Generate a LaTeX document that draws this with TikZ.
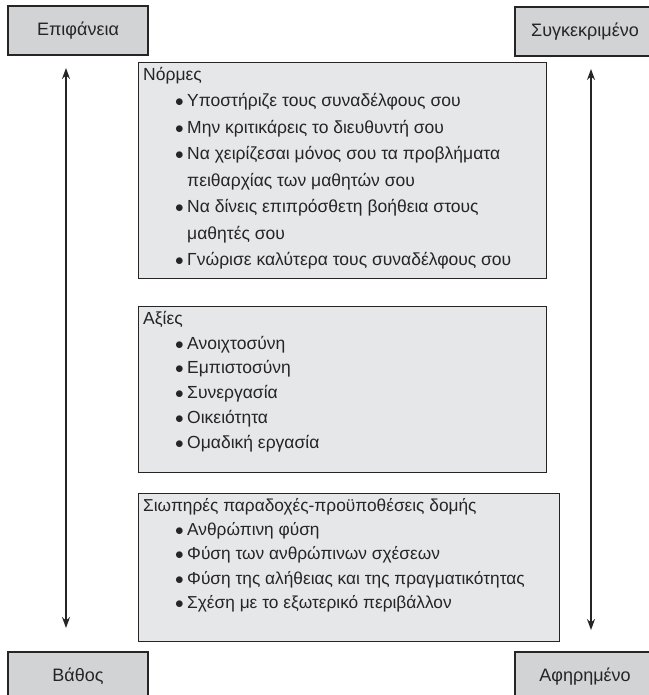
\documentclass[tikz,border=0pt]{standalone}
\usepackage{fontspec}
\setmainfont{Liberation Sans}
\usetikzlibrary{arrows.meta}
\definecolor{edgegray}{HTML}{262425}
\definecolor{outergray}{HTML}{D2D3D5}
\definecolor{innergray}{HTML}{E6E7E8}
\newcommand{\bitem}[1]{\hspace*{32pt}\makebox[12pt][l]{$\bullet$}#1}
\newcommand{\bcont}[1]{\hspace*{44pt}#1}
\begin{document}
\begin{tikzpicture}[x=1pt, y=-1pt,
		corner/.style={draw=edgegray, line width=1.4pt, fill=outergray, minimum width=140pt, minimum height=49pt, inner sep=0pt, font=\fontsize{18}{20}\selectfont, text=edgegray},
		layer/.style={draw=edgegray, line width=1.4pt, fill=innergray, anchor=north west, inner sep=0pt},
		list/.style={anchor=north west, align=left, inner sep=0pt, text=edgegray}]
			\useasboundingbox (0,0) rectangle (648,695);
			% corner labels
			\node[corner] (surface) at (78,30.5) {Επιφάνεια};
			\node[corner] (concrete) at (585,31.5) {Συγκεκριμένο};
			\node[corner] (depth) at (78,676.5) {Βάθος};
			\node[corner] (abstract) at (585,676.5) {Αφηρημένο};
			% the three layers
			\node[layer, minimum width=408pt, minimum height=216pt] (norms) at (138,62) {};
			\node[layer, minimum width=408pt, minimum height=166pt] (values) at (138,306) {};
			\node[layer, minimum width=421pt, minimum height=148pt] (assumptions) at (138,493) {};
			\node[list, font=\fontsize{17.5}{26.5}\selectfont] (normstext) at ([xshift=5pt, yshift=-5pt]norms.north west) {Νόρμες\\
				\bitem{Υποστήριζε τους συναδέλφους σου}\\
				\bitem{Μην κριτικάρεις το διευθυντή σου}\\
				\bitem{Να χειρίζεσαι μόνος σου τα προβλήματα}\\
				\bcont{πειθαρχίας των μαθητών σου}\\
				\bitem{Να δίνεις επιπρόσθετη βοήθεια στους}\\
				\bcont{μαθητές σου}\\
				\bitem{Γνώρισε καλύτερα τους συναδέλφους σου}};
			\node[list, font=\fontsize{17.5}{24.8}\selectfont] (valuestext) at ([xshift=5pt, yshift=-5pt]values.north west) {Αξίες\\
				\bitem{Ανοιχτοσύνη}\\
				\bitem{Εμπιστοσύνη}\\
				\bitem{Συνεργασία}\\
				\bitem{Οικειότητα}\\
				\bitem{Ομαδική εργασία}};
			\node[list, font=\fontsize{17.3}{24.3}\selectfont] (assumptionstext) at ([xshift=5pt, yshift=-5pt]assumptions.north west) {Σιωπηρές παραδοχές-προϋποθέσεις δομής\\
				\bitem{Ανθρώπινη φύση}\\
				\bitem{Φύση των ανθρώπινων σχέσεων}\\
				\bitem{Φύση της αλήθειας και της πραγματικότητας}\\
				\bitem{Σχέση με το εξωτερικό περιβάλλον}};
			% the two axes
			\coordinate (lefttop) at (66,68);
			\coordinate (leftbottom) at (66,628);
			\coordinate (righttop) at (591,69);
			\coordinate (rightbottom) at (591,630);
			\draw[{Stealth[length=11pt, width=8pt]}-{Stealth[length=11pt, width=8pt]}, line width=1.4pt, edgegray] (lefttop) -- (leftbottom);
			\draw[{Stealth[length=11pt, width=8pt]}-{Stealth[length=11pt, width=8pt]}, line width=1.4pt, edgegray] (righttop) -- (rightbottom);
		\end{tikzpicture}
\end{document}
